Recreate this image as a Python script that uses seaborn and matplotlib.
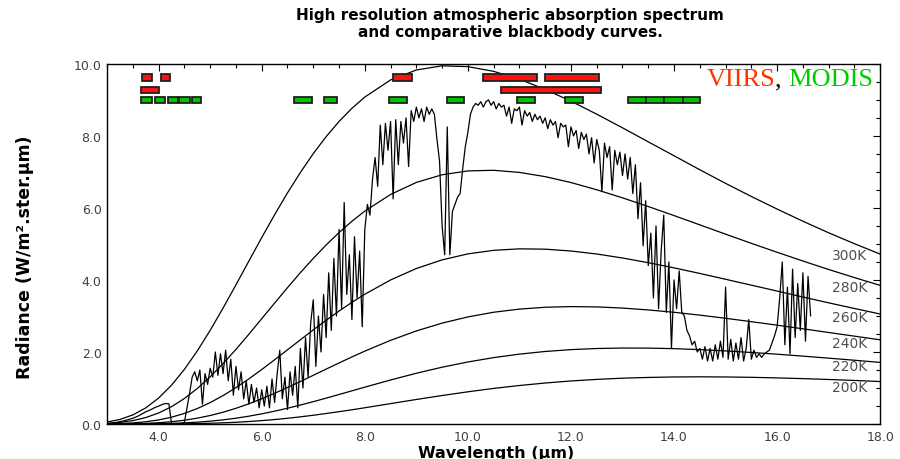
import numpy as np
import pandas as pd
import matplotlib
matplotlib.use("Agg")
import matplotlib.pyplot as plt
import seaborn as sns
from matplotlib.ticker import MultipleLocator, FormatStrFormatter

# ---------------- data ----------------
bb_wavelength = [3.0, 3.25, 3.5, 3.75, 4.0, 4.25, 4.5, 4.75, 5.0, 5.25, 5.5, 5.75, 6.0, 6.25,
                 6.5, 6.75, 7.0, 7.25, 7.5, 7.75, 8.0, 8.5, 9.0, 9.5,
                 10.0, 10.5, 11.0, 11.5, 12.0, 12.5, 13.0, 13.5, 14.0, 14.5, 15.0,
                 15.5, 16.0, 16.5, 17.0, 17.5, 18.0]
bb_300 = [0.056, 0.128, 0.254, 0.448, 0.722, 1.079, 1.518, 2.030, 2.602, 3.220, 3.865, 4.522,
          5.176, 5.811, 6.418, 6.984, 7.508, 7.979, 8.400, 8.766, 9.078,
          9.553, 9.830, 9.946, 9.923, 9.792, 9.573, 9.291, 8.963, 8.603, 8.224, 7.835,
          7.448, 7.060, 6.682, 6.318, 5.968, 5.631, 5.310, 5.007, 4.718]
bb_280 = [0.018, 0.045, 0.095, 0.180, 0.307, 0.482, 0.709, 0.987, 1.312, 1.676, 2.073, 2.492,
          2.924, 3.358, 3.787, 4.202, 4.599, 4.971, 5.316, 5.630, 5.911,
          6.374, 6.708, 6.921, 7.028, 7.045, 6.986, 6.869, 6.705, 6.505, 6.280, 6.039,
          5.788, 5.530, 5.272, 5.017, 4.769, 4.526, 4.291, 4.066, 3.850]
bb_260 = [0.005, 0.013, 0.031, 0.063, 0.114, 0.190, 0.295, 0.430, 0.595, 0.790, 1.011, 1.253,
          1.513, 1.784, 2.061, 2.339, 2.614, 2.881, 3.137, 3.379, 3.604,
          4.000, 4.318, 4.558, 4.724, 4.823, 4.864, 4.855, 4.804, 4.721, 4.610, 4.480,
          4.336, 4.181, 4.019, 3.856, 3.692, 3.527, 3.365, 3.208, 3.055]
bb_240 = [0.001, 0.003, 0.008, 0.018, 0.036, 0.064, 0.106, 0.163, 0.237, 0.328, 0.437, 0.562,
          0.701, 0.853, 1.014, 1.181, 1.353, 1.525, 1.696, 1.863, 2.024,
          2.324, 2.585, 2.802, 2.974, 3.104, 3.191, 3.242, 3.261, 3.252, 3.220, 3.168,
          3.103, 3.024, 2.936, 2.842, 2.745, 2.644, 2.542, 2.440, 2.338]
bb_220 = [0.000, 0.001, 0.002, 0.004, 0.009, 0.018, 0.032, 0.052, 0.080, 0.116, 0.162, 0.218,
          0.283, 0.357, 0.439, 0.527, 0.621, 0.719, 0.820, 0.922, 1.024,
          1.223, 1.410, 1.578, 1.723, 1.844, 1.941, 2.015, 2.066, 2.097, 2.110, 2.108,
          2.093, 2.066, 2.030, 1.987, 1.939, 1.886, 1.829, 1.771, 1.711]
bb_200 = [0.000, 0.000, 0.000, 0.001, 0.002, 0.004, 0.007, 0.013, 0.022, 0.033, 0.049, 0.070,
          0.095, 0.125, 0.160, 0.200, 0.244, 0.292, 0.343, 0.396, 0.452,
          0.567, 0.682, 0.792, 0.895, 0.989, 1.070, 1.139, 1.196, 1.240, 1.273, 1.294,
          1.307, 1.311, 1.307, 1.297, 1.281, 1.261, 1.237, 1.210, 1.180]
bb_labels = ["300K", "280K", "260K", "240K", "220K", "200K"]
bb_label_y = [4.69, 3.81, 2.97, 2.25, 1.61, 1.03]

# measured spectrum, sampled every 0.05 um starting at 3.00 um
spec_start = 3.0
spec_step = 0.05
spec_values = [
    0.01, 0.02, 0.03, 0.04, 0.05, 0.07, 0.08, 0.10, 0.12, 0.14, 0.16, 0.19, 0.22, 0.26, 0.30, 0.34, 0.37, 0.40, 0.44, 0.47,
    0.50, 0.53, 0.56, 0.57, 0.56, 0.00, 0.00, 0.00, 0.00, 0.01, 0.05, 0.45, 0.85, 1.30, 1.45, 1.20, 1.50, 0.55, 1.40, 1.10,
    1.55, 1.30, 2.00, 1.35, 1.95, 1.40, 2.05, 1.20, 1.80, 0.80, 1.60, 0.95, 1.45, 0.70, 1.20, 0.55, 1.10, 0.60, 1.00, 0.45,
    0.95, 0.50, 1.05, 0.45, 1.25, 0.60, 1.40, 2.05, 0.70, 1.30, 0.40, 1.45, 0.80, 1.60, 0.45, 2.10, 1.00, 2.40, 1.30, 2.80,
    3.45, 1.60, 3.00, 2.00, 3.60, 2.40, 4.20, 2.60, 4.60, 3.00, 5.40, 3.20, 6.15, 3.60, 4.70, 2.90, 5.20, 3.50, 4.80, 2.70,
    5.40, 6.10, 5.80, 6.80, 7.40, 6.60, 8.30, 7.20, 8.35, 7.60, 8.40, 6.25, 8.45, 7.20, 8.40, 7.80, 8.50, 7.15, 8.70, 8.40,
    8.80, 8.50, 8.75, 8.40, 8.80, 8.60, 8.75, 8.60, 7.90, 7.30, 5.50, 4.70, 8.25, 4.70, 5.90, 6.10, 6.30, 6.40, 7.10, 7.70,
    8.10, 8.60, 8.80, 8.90, 8.85, 8.95, 8.80, 8.95, 9.00, 8.85, 8.95, 8.75, 8.90, 8.80, 8.85, 8.55, 8.80, 8.35, 8.75, 8.70,
    8.80, 8.30, 8.70, 8.55, 8.65, 8.40, 8.60, 8.45, 8.55, 8.35, 8.50, 8.20, 8.45, 8.30, 8.40, 7.95, 8.35, 8.25, 8.30, 7.70,
    8.25, 8.00, 8.15, 7.65, 8.10, 7.90, 8.05, 7.50, 7.95, 7.25, 7.90, 7.60, 6.45, 7.80, 7.40, 7.70, 6.50, 7.60, 7.20, 7.55,
    6.90, 7.50, 6.80, 7.40, 6.40, 7.20, 5.70, 6.70, 4.95, 6.20, 4.40, 5.30, 3.50, 5.50, 3.20, 4.80, 5.80, 3.10, 4.50, 2.10,
    4.00, 3.20, 4.25, 3.10, 3.00, 2.60, 2.45, 2.20, 2.30, 2.00, 2.10, 1.80, 2.15, 1.75, 2.10, 1.75, 2.20, 1.80, 2.30, 1.85,
    3.80, 1.80, 2.35, 1.75, 2.25, 1.80, 2.40, 1.75, 2.10, 2.90, 1.80, 2.05, 1.85, 1.95, 1.85, 1.95, 2.00, 2.05, 2.25, 2.45,
    2.70, 3.50, 4.50, 2.20, 3.80, 1.95, 4.30, 2.40, 3.90, 2.60, 4.20, 2.30, 4.10, 3.00,
]

# band boxes (start, end in um; row level)
viirs_start = [3.68, 4.04, 3.65, 8.55, 10.30, 11.50, 10.65]
viirs_end   = [3.87, 4.22, 4.01, 8.91, 11.35, 12.55, 12.58]
viirs_row   = [9.62, 9.62, 9.27, 9.62, 9.62, 9.62, 9.27]
modis_start = [3.65, 3.93, 4.18, 4.40, 4.64, 6.63, 7.21, 8.47, 9.59, 10.95, 11.88, 13.10, 13.45, 13.81, 14.17]
modis_end   = [3.88, 4.13, 4.37, 4.60, 4.82, 6.98, 7.47, 8.82, 9.93, 11.31, 12.23, 13.45, 13.81, 14.17, 14.51]
modis_row   = [9.00] * 15

# ---------------- figure ----------------
sns.set_style("white")
plt.rcParams["font.family"] = ["DejaVu Sans"]

fig = plt.figure(figsize=(9, 4.6), dpi=100)
ax = fig.add_axes([0.119, 0.076, 0.859, 0.783])

bb_df = pd.DataFrame({"wl": bb_wavelength, "300K": bb_300, "280K": bb_280, "260K": bb_260,
                      "240K": bb_240, "220K": bb_220, "200K": bb_200})
for lab in bb_labels:
    sns.lineplot(data=bb_df, x="wl", y=lab, ax=ax, color="black", linewidth=0.9,
                 estimator=None, sort=False)

spec_wl = np.round(spec_start + spec_step * np.arange(len(spec_values)), 3)
spec_df = pd.DataFrame({"wl": spec_wl, "rad": spec_values})
sns.lineplot(data=spec_df, x="wl", y="rad", ax=ax, color="black", linewidth=0.9,
             estimator=None, sort=False)

box_h = 0.18
ax.barh(viirs_row, np.array(viirs_end) - np.array(viirs_start), left=viirs_start,
        height=box_h, color="#ff1010", edgecolor="#202020", linewidth=1.3, zorder=5)
ax.barh(modis_row, np.array(modis_end) - np.array(modis_start), left=modis_start,
        height=box_h, color="#00c400", edgecolor="#202020", linewidth=1.3, zorder=5)

for lab, yy in zip(bb_labels, bb_label_y):
    ax.text(17.4, yy, lab, ha="center", va="center", fontsize=10, color="#505050")

ax.set_xlim(3.0, 18.0)
ax.set_ylim(0.0, 10.0)
ax.xaxis.set_major_locator(MultipleLocator(2.0))
ax.xaxis.set_minor_locator(MultipleLocator(0.5))
ax.yaxis.set_major_locator(MultipleLocator(2.0))
ax.yaxis.set_minor_locator(MultipleLocator(0.5))
ax.xaxis.set_major_formatter(FormatStrFormatter("%.1f"))
ax.yaxis.set_major_formatter(FormatStrFormatter("%.1f"))
ax.tick_params(which="both", direction="in", top=True, right=True, colors="black",
               labelcolor="#404040", labelsize=9)
ax.tick_params(which="major", length=5, width=0.8, pad=4)
ax.tick_params(which="minor", length=3, width=0.8)
ax.set_xlabel("")
ax.set_ylabel("")
for s in ax.spines.values():
    s.set_color("black")
    s.set_linewidth(1.0)
xt = [t for t in ax.get_xticks() if 3.0 < t <= 18.0]
ax.set_xticks(xt)

# multi-colour legend text
fig.canvas.draw()
renderer = fig.canvas.get_renderer()
inv = ax.transAxes.inverted()
tx, ty = 0.991, 0.958
serif = dict(fontfamily=["Liberation Serif", "DejaVu Serif"], fontsize=19, ha="right",
             va="center", transform=ax.transAxes)
t1 = ax.text(tx, ty, "MODIS", color="#00cc00", **serif)
x0 = inv.transform((t1.get_window_extent(renderer).x0, 0))[0]
t2 = ax.text(x0, ty, ", ", color="black", **serif)
x1 = inv.transform((t2.get_window_extent(renderer).x0, 0))[0]
ax.text(x1, ty, "VIIRS", color="#ff3300", **serif)

fig.text(0.567, 0.967, "High resolution atmospheric absorption spectrum", ha="center",
         va="center", fontsize=11, fontweight="bold", color="black")
fig.text(0.567, 0.930, "and comparative blackbody curves.", ha="center",
         va="center", fontsize=11, fontweight="bold", color="black")
fig.text(0.551, 0.014, "Wavelength (\u00b5m)", ha="center", va="center", fontsize=11.5,
         fontweight="bold", color="black")
fig.text(0.028, 0.44, "Radiance (W/m\u00b2.ster.\u00b5m)", ha="center", va="center",
         rotation=90, fontsize=12.5, fontweight="bold", color="black")

fig.savefig("out.png", dpi=100, facecolor="white")
